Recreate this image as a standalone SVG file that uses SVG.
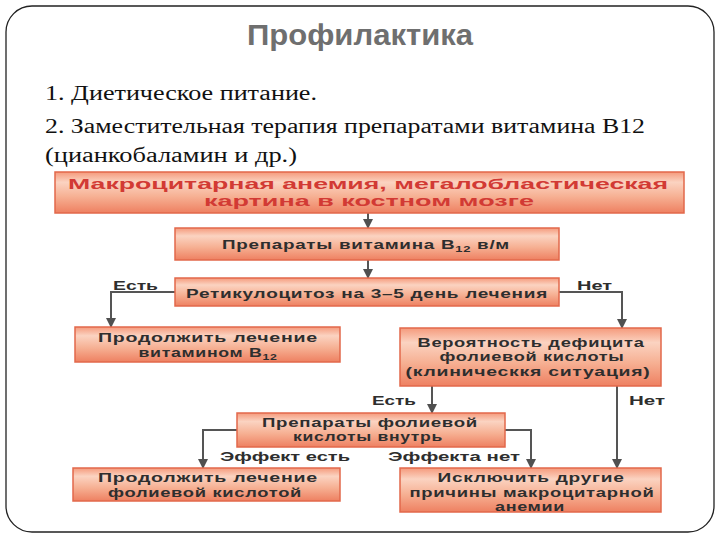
<svg xmlns="http://www.w3.org/2000/svg" width="720" height="540" viewBox="0 0 720 540">
<defs>
<linearGradient id="g" x1="0" y1="0" x2="0" y2="1">
<stop offset="0" stop-color="#f59a7c"/>
<stop offset="0.25" stop-color="#fbd3c1"/>
<stop offset="0.6" stop-color="#f6b093"/>
<stop offset="1" stop-color="#ee8061"/>
</linearGradient>
<marker id="ah" viewBox="0 0 10 10" refX="9" refY="5" markerWidth="5" markerHeight="5" orient="auto" markerUnits="strokeWidth">
<path d="M0,0 L10,5 L0,10 z" fill="#505050"/>
</marker>
<style>
.box{fill:url(#g);stroke:#e2684b;stroke-width:1.5}
.bt{font-family:"Liberation Sans",Arial,sans-serif;font-weight:bold;font-size:13px;fill:#2e2e2e;text-anchor:middle;letter-spacing:0.5px}
.rt{font-family:"Liberation Sans",Arial,sans-serif;font-weight:bold;font-size:15px;fill:#d23a34;text-anchor:middle}
.lb{font-family:"Liberation Sans",Arial,sans-serif;font-weight:bold;font-size:12.5px;fill:#2e2e2e}
.cn{fill:none;stroke:#555;stroke-width:2;marker-end:url(#ah)}
.sr{font-family:"Liberation Serif","DejaVu Serif","Times New Roman",serif;font-size:20px;fill:#111}
</style>
</defs>
<rect x="0" y="0" width="720" height="540" fill="#ffffff"/>
<rect x="6" y="6" width="708" height="526" rx="26" ry="26" fill="none" stroke="#222" stroke-width="1.3"/>
<text x="360" y="45" font-family="Liberation Sans,Arial,sans-serif" font-weight="bold" font-size="29" fill="#6f6f6f" text-anchor="middle" textLength="226" lengthAdjust="spacingAndGlyphs">Профилактика</text>
<text class="sr" x="45" y="100" textLength="272" lengthAdjust="spacingAndGlyphs">1.  Диетическое питание.</text>
<text class="sr" x="45" y="133" textLength="600" lengthAdjust="spacingAndGlyphs">2. Заместительная терапия препаратами витамина B12</text>
<text class="sr" x="45" y="162" textLength="252" lengthAdjust="spacingAndGlyphs">(цианкобаламин и др.)</text>

<g id="connectors">
<path class="cn" d="M368,213 V228"/>
<path class="cn" d="M368,260 V278"/>
<path class="cn" d="M175,292 H111 V327"/>
<path class="cn" d="M559,292 H622 V328"/>
<path class="cn" d="M432,386 V413"/>
<path class="cn" d="M617,386 V468"/>
<path class="cn" d="M237,430 H203 V468"/>
<path class="cn" d="M505,430 H531 V468"/>
<text class="lb" x="113" y="290" textLength="45" lengthAdjust="spacingAndGlyphs">Есть</text>
<text class="lb" x="577" y="290" textLength="35" lengthAdjust="spacingAndGlyphs">Нет</text>
<text class="lb" x="372" y="405" textLength="44" lengthAdjust="spacingAndGlyphs">Есть</text>
<text class="lb" x="629" y="405" textLength="36" lengthAdjust="spacingAndGlyphs">Нет</text>
<text class="lb" x="220" y="461" textLength="130" lengthAdjust="spacingAndGlyphs">Эффект есть</text>
<text class="lb" x="388" y="461" textLength="132" lengthAdjust="spacingAndGlyphs">Эффекта нет</text>
</g>

<g id="n1">
<rect class="box" x="55" y="172" width="629" height="41"/>
<text class="rt" x="368" y="189" textLength="600" lengthAdjust="spacingAndGlyphs">Макроцитарная анемия, мегалобластическая</text>
<text class="rt" x="369" y="206" textLength="330" lengthAdjust="spacingAndGlyphs">картина в костном мозге</text>
</g>
<g id="n2">
<rect class="box" x="175" y="228" width="384" height="32"/>
<text class="bt" x="366" y="249" textLength="288" lengthAdjust="spacingAndGlyphs">Препараты витамина B<tspan font-size="9" dy="3">12</tspan><tspan dy="-3"> в/м</tspan></text>
</g>
<g id="n3">
<rect class="box" x="175" y="278" width="384" height="28"/>
<text class="bt" x="367" y="298" textLength="362" lengthAdjust="spacingAndGlyphs">Ретикулоцитоз на 3–5 день лечения</text>
</g>
<g id="n4">
<rect class="box" x="75" y="327" width="265" height="35"/>
<text class="bt" x="208" y="342" textLength="220" lengthAdjust="spacingAndGlyphs">Продолжить лечение</text>
<text class="bt" x="208" y="357" textLength="139" lengthAdjust="spacingAndGlyphs">витамином B<tspan font-size="9" dy="3">12</tspan></text>
</g>
<g id="n5">
<rect class="box" x="400" y="328" width="261" height="58"/>
<text class="bt" x="531" y="347" textLength="227" lengthAdjust="spacingAndGlyphs">Вероятность дефицита</text>
<text class="bt" x="532" y="361" textLength="185" lengthAdjust="spacingAndGlyphs">фолиевой кислоты</text>
<text class="bt" x="528" y="376" textLength="245" lengthAdjust="spacingAndGlyphs">(клиническкя ситуация)</text>
</g>
<g id="n6">
<rect class="box" x="237" y="413" width="268" height="34"/>
<text class="bt" x="370" y="427" textLength="216" lengthAdjust="spacingAndGlyphs">Препараты фолиевой</text>
<text class="bt" x="368" y="441" textLength="150" lengthAdjust="spacingAndGlyphs">кислоты внутрь</text>
</g>
<g id="n7">
<rect class="box" x="73" y="468" width="267" height="33"/>
<text class="bt" x="208" y="482" textLength="220" lengthAdjust="spacingAndGlyphs">Продолжить лечение</text>
<text class="bt" x="205" y="497" textLength="194" lengthAdjust="spacingAndGlyphs">фолиевой кислотой</text>
</g>
<g id="n8">
<rect class="box" x="400" y="468" width="261" height="44"/>
<text class="bt" x="531" y="482" textLength="187" lengthAdjust="spacingAndGlyphs">Исключить другие</text>
<text class="bt" x="532" y="497" textLength="245" lengthAdjust="spacingAndGlyphs">причины макроцитарной</text>
<text class="bt" x="530" y="511" textLength="70" lengthAdjust="spacingAndGlyphs">анемии</text>
</g>
</svg>
